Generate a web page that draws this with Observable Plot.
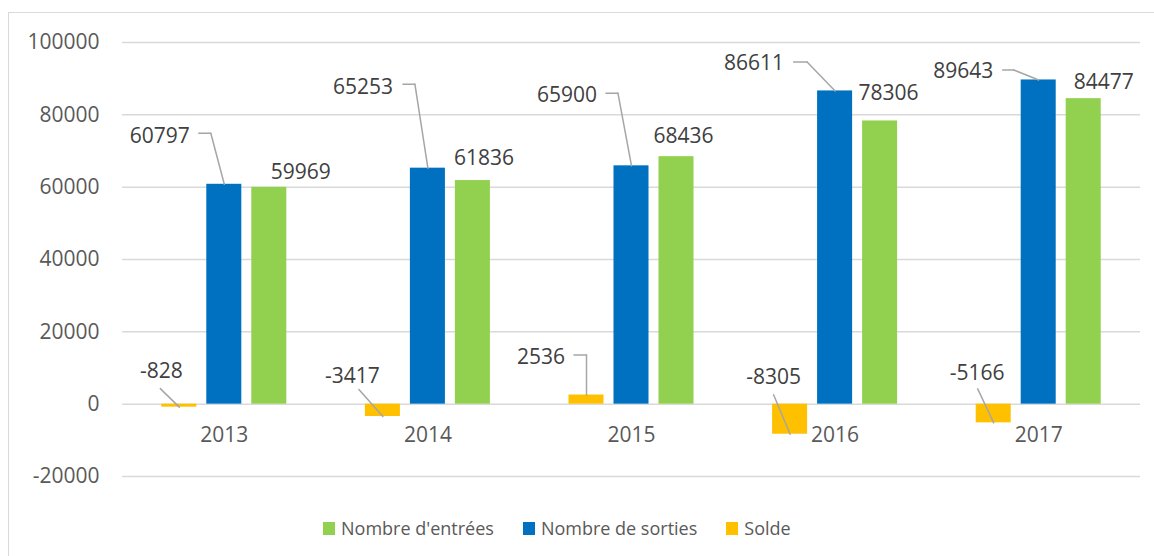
<!DOCTYPE html>
<html>
<head>
<meta charset="utf-8">
<script src="https://cdn.jsdelivr.net/npm/d3@7"></script>
<script src="https://cdn.jsdelivr.net/npm/@observablehq/plot@0.6"></script>
<style>
html, body { margin: 0; padding: 0; background: #fff; width: 1154px; height: 556px; overflow: hidden; }
#frame { position: absolute; left: 8px; top: 12px; width: 1180px; height: 600px; border: 1.5px solid #d9d9d9; box-sizing: border-box; }
#chart { position: absolute; left: 0; top: 0; }
#legend { position: absolute; left: 323px; top: 516px; display: flex; align-items: center;
  font-family: "Open Sans", sans-serif; font-size: 18px; line-height: 24px; color: #595959; white-space: nowrap; }
.item { display: flex; align-items: center; margin-right: 29px; }
.sw { width: 12px; height: 13px; margin-right: 6px; }
</style>
</head>
<body>
<div id="frame"></div>
<div id="chart"></div>
<div id="legend"></div>
<script>
// ---- data ----
const years = ["2013", "2014", "2015", "2016", "2017"];
const entrees = [59969, 61836, 68436, 78306, 84477];
const sorties = [60797, 65253, 65900, 86611, 89643];
const solde = [-828, -3417, 2536, -8305, -5166];
const yTicks = [-20000, 0, 20000, 40000, 60000, 80000, 100000];

// series (drawing order within each year: Solde, sorties, entrées)
const seriesNames = ["Solde", "Nombre de sorties", "Nombre d'entrées"];
const seriesValues = [solde, sorties, entrees];

// ---- styles / layout ----
const seriesColors = ["#FFC000", "#0070C0", "#92D050"];
const seriesShift = [-45, 0, 45];           // px offset of each series bar from year center
// label offsets (px) from the bar end
const labelOffsets = [
  [[-18, -35.5], [-30.5, -40], [-45.5, -38], [-16.5, -57], [-16.5, -50]],
  [[-64.5, -48], [-65, -81], [-64.5, -70.5], [-81, -28], [-75.5, -9]],
  [[31.5, -15], [11, -22], [7, -20], [8.5, -28], [20, -16.5]]
];
// leader line points (px) from the label side to the bar end
const leaderPoints = [
  [[[-19, -18.5], [0, 0]], [[-24, -27], [0, 0]], [[-12.5, -40], [0, -40], [0, 0]], [[-16.5, -39.5], [0, 0]], [[-16, -34], [0, 0]]],
  [[[-25.5, -51], [-13.5, -51], [0, 0]], [[-25, -84], [-13, -84], [0, 0]], [[-25.5, -72.5], [-13.5, -72.5], [0, 0]], [[-41.5, -29], [-28, -29], [0, 0]], [[-36, -10], [-25, -10], [0, 0]]],
  [null, null, null, null, null]
];

const rows = seriesNames.map((name, s) =>
  years.map((year, i) => ({year, series: name, value: seriesValues[s][i], s, i})));

const marks = [];
marks.push(Plot.ruleY(yTicks, {stroke: "#d9d9d9", strokeWidth: 1.5}));
rows.forEach((r, s) => {
  marks.push(Plot.barY(r, {x: "year", y1: 0, y2: "value", fill: seriesColors[s], dx: seriesShift[s]}));
});
// leaders
rows.forEach((r, s) => {
  r.forEach((d, i) => {
    const pts = leaderPoints[s][i];
    if (!pts) return;
    for (let k = 0; k < pts.length - 1; k++) {
      const P = pts[k], Q = pts[k + 1];
      const ddx = Q[0] - P[0], ddy = Q[1] - P[1];
      const L = Math.hypot(ddx, ddy);
      const rot = Math.atan2(ddx, -ddy) * 180 / Math.PI;
      marks.push(Plot.vector([d], {
        x: "year", y: "value", dx: seriesShift[s] + P[0], dy: P[1],
        length: L, rotate: rot, anchor: "start", r: 0,
        stroke: "#a6a6a6", strokeWidth: 1.5
      }));
    }
  });
});
// data labels
rows.forEach((r, s) => {
  r.forEach((d, i) => {
    const o = labelOffsets[s][i];
    marks.push(Plot.text([d], {
      x: "year", y: "value", text: v => String(v.value),
      dx: seriesShift[s] + o[0], dy: o[1], fontSize: 21, fill: "#404040"
    }));
  });
});
// category labels next to the zero line
marks.push(Plot.text(years, {x: d => d, y: () => 0, text: d => d, dy: 31.5, fontSize: 21, fill: "#595959"}));
marks.push(Plot.axisY({ticks: yTicks, tickSize: 0, tickPadding: 23, fontSize: 21, color: "#595959",
  tickFormat: d => String(d), label: null}));

const chart = Plot.plot({
  width: 1154,
  height: 500,
  marginLeft: 122,
  marginRight: 14,
  marginTop: 42,
  marginBottom: 24,
  style: {fontFamily: "'Open Sans', sans-serif", background: "transparent"},
  x: {type: "band", domain: years, paddingInner: 0.828, paddingOuter: 0.414, round: false, axis: null},
  y: {domain: [-20000, 100000]},
  marks
});
document.getElementById("chart").appendChild(chart);

// legend (HTML, below the SVG)
const legendOrder = [2, 1, 0];
const legend = document.getElementById("legend");
legendOrder.forEach((s) => {
  const item = document.createElement("div");
  item.className = "item";
  const sw = document.createElement("div");
  sw.className = "sw";
  sw.style.background = seriesColors[s];
  const t = document.createElement("span");
  t.textContent = seriesNames[s];
  item.appendChild(sw);
  item.appendChild(t);
  legend.appendChild(item);
});
</script>
</body>
</html>
